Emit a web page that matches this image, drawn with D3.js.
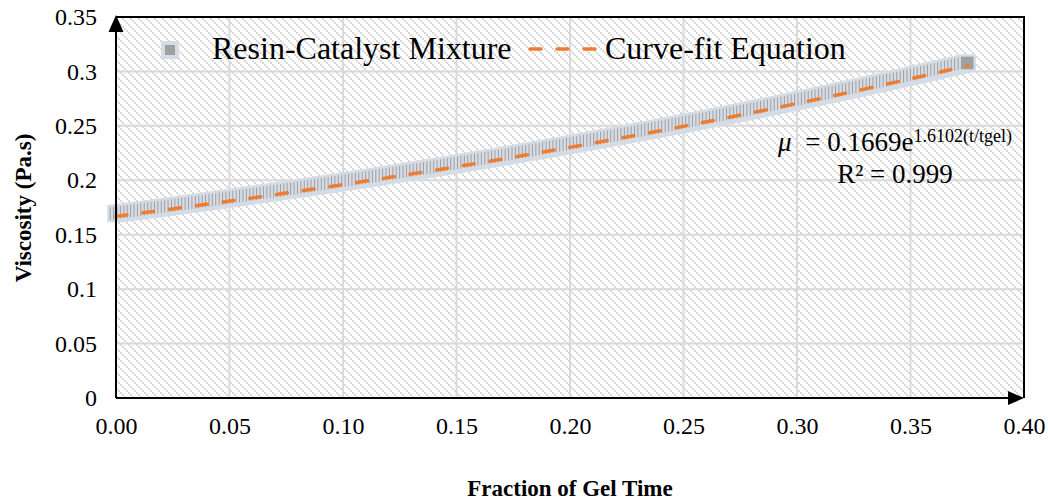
<!DOCTYPE html>
<html>
<head>
<meta charset="utf-8">
<script src="https://cdn.jsdelivr.net/npm/d3@7"></script>
<style>
    html, body { margin: 0; padding: 0; background: #ffffff; }
    #chart { width: 1048px; height: 504px; }
    text { font-family: "Liberation Serif", "Times New Roman", serif; fill: #000; }
</style>
</head>
<body>
<div id="chart"></div>
<script>
// Fraction of gel time (t/tgel) for each measured point
const fractionGelTime = [
    0.0000, 0.0015, 0.0030, 0.0045, 0.0060, 0.0075, 0.0090, 0.0105, 0.0120, 0.0135,
    0.0150, 0.0165, 0.0180, 0.0195, 0.0210, 0.0225, 0.0240, 0.0255, 0.0270, 0.0285,
    0.0300, 0.0315, 0.0330, 0.0345, 0.0360, 0.0375, 0.0390, 0.0405, 0.0420, 0.0435,
    0.0450, 0.0465, 0.0480, 0.0495, 0.0510, 0.0525, 0.0540, 0.0555, 0.0570, 0.0585,
    0.0600, 0.0615, 0.0630, 0.0645, 0.0660, 0.0675, 0.0690, 0.0705, 0.0720, 0.0735,
    0.0750, 0.0765, 0.0780, 0.0795, 0.0810, 0.0825, 0.0840, 0.0855, 0.0870, 0.0885,
    0.0900, 0.0915, 0.0930, 0.0945, 0.0960, 0.0975, 0.0990, 0.1005, 0.1020, 0.1035,
    0.1050, 0.1065, 0.1080, 0.1095, 0.1110, 0.1125, 0.1140, 0.1155, 0.1170, 0.1185,
    0.1200, 0.1215, 0.1230, 0.1245, 0.1260, 0.1275, 0.1290, 0.1305, 0.1320, 0.1335,
    0.1350, 0.1365, 0.1380, 0.1395, 0.1410, 0.1425, 0.1440, 0.1455, 0.1470, 0.1485,
    0.1500, 0.1515, 0.1530, 0.1545, 0.1560, 0.1575, 0.1590, 0.1605, 0.1620, 0.1635,
    0.1650, 0.1665, 0.1680, 0.1695, 0.1710, 0.1725, 0.1740, 0.1755, 0.1770, 0.1785,
    0.1800, 0.1815, 0.1830, 0.1845, 0.1860, 0.1875, 0.1890, 0.1905, 0.1920, 0.1935,
    0.1950, 0.1965, 0.1980, 0.1995, 0.2010, 0.2025, 0.2040, 0.2055, 0.2070, 0.2085,
    0.2100, 0.2115, 0.2130, 0.2145, 0.2160, 0.2175, 0.2190, 0.2205, 0.2220, 0.2235,
    0.2250, 0.2265, 0.2280, 0.2295, 0.2310, 0.2325, 0.2340, 0.2355, 0.2370, 0.2385,
    0.2400, 0.2415, 0.2430, 0.2445, 0.2460, 0.2475, 0.2490, 0.2505, 0.2520, 0.2535,
    0.2550, 0.2565, 0.2580, 0.2595, 0.2610, 0.2625, 0.2640, 0.2655, 0.2670, 0.2685,
    0.2700, 0.2715, 0.2730, 0.2745, 0.2760, 0.2775, 0.2790, 0.2805, 0.2820, 0.2835,
    0.2850, 0.2865, 0.2880, 0.2895, 0.2910, 0.2925, 0.2940, 0.2955, 0.2970, 0.2985,
    0.3000, 0.3015, 0.3030, 0.3045, 0.3060, 0.3075, 0.3090, 0.3105, 0.3120, 0.3135,
    0.3150, 0.3165, 0.3180, 0.3195, 0.3210, 0.3225, 0.3240, 0.3255, 0.3270, 0.3285,
    0.3300, 0.3315, 0.3330, 0.3345, 0.3360, 0.3375, 0.3390, 0.3405, 0.3420, 0.3435,
    0.3450, 0.3465, 0.3480, 0.3495, 0.3510, 0.3525, 0.3540, 0.3555, 0.3570, 0.3585,
    0.3600, 0.3615, 0.3630, 0.3645, 0.3660, 0.3675, 0.3690, 0.3705, 0.3720, 0.3735,
    0.3750
];

// Measured viscosity (Pa.s) of the resin-catalyst mixture
const viscosity = [
    0.16940, 0.16980, 0.17021, 0.17061, 0.17102, 0.17143, 0.17184, 0.17225, 0.17266, 0.17307,
    0.17348, 0.17389, 0.17431, 0.17472, 0.17514, 0.17556, 0.17598, 0.17640, 0.17682, 0.17724,
    0.17766, 0.17808, 0.17851, 0.17893, 0.17936, 0.17979, 0.18022, 0.18065, 0.18108, 0.18151,
    0.18194, 0.18238, 0.18281, 0.18325, 0.18368, 0.18412, 0.18456, 0.18500, 0.18544, 0.18589,
    0.18633, 0.18677, 0.18722, 0.18767, 0.18811, 0.18856, 0.18901, 0.18946, 0.18992, 0.19037,
    0.19082, 0.19128, 0.19174, 0.19219, 0.19265, 0.19311, 0.19357, 0.19403, 0.19450, 0.19496,
    0.19543, 0.19589, 0.19636, 0.19683, 0.19730, 0.19777, 0.19824, 0.19872, 0.19919, 0.19967,
    0.20014, 0.20062, 0.20110, 0.20158, 0.20206, 0.20255, 0.20303, 0.20351, 0.20400, 0.20449,
    0.20498, 0.20547, 0.20596, 0.20645, 0.20694, 0.20744, 0.20793, 0.20843, 0.20893, 0.20942,
    0.20993, 0.21043, 0.21093, 0.21143, 0.21194, 0.21245, 0.21295, 0.21346, 0.21397, 0.21448,
    0.21500, 0.21551, 0.21603, 0.21654, 0.21706, 0.21758, 0.21810, 0.21862, 0.21914, 0.21967,
    0.22019, 0.22072, 0.22125, 0.22177, 0.22230, 0.22284, 0.22337, 0.22390, 0.22444, 0.22497,
    0.22551, 0.22605, 0.22659, 0.22714, 0.22768, 0.22822, 0.22877, 0.22932, 0.22986, 0.23041,
    0.23097, 0.23152, 0.23207, 0.23263, 0.23318, 0.23374, 0.23430, 0.23486, 0.23542, 0.23599,
    0.23655, 0.23712, 0.23768, 0.23825, 0.23882, 0.23939, 0.23997, 0.24054, 0.24112, 0.24169,
    0.24227, 0.24285, 0.24343, 0.24402, 0.24460, 0.24519, 0.24577, 0.24636, 0.24695, 0.24754,
    0.24813, 0.24873, 0.24932, 0.24992, 0.25052, 0.25112, 0.25172, 0.25232, 0.25293, 0.25353,
    0.25414, 0.25475, 0.25536, 0.25597, 0.25658, 0.25720, 0.25781, 0.25843, 0.25905, 0.25967,
    0.26029, 0.26091, 0.26154, 0.26217, 0.26279, 0.26342, 0.26405, 0.26469, 0.26532, 0.26596,
    0.26659, 0.26723, 0.26787, 0.26851, 0.26916, 0.26980, 0.27045, 0.27110, 0.27175, 0.27240,
    0.27305, 0.27370, 0.27436, 0.27502, 0.27568, 0.27634, 0.27700, 0.27766, 0.27833, 0.27900,
    0.27966, 0.28033, 0.28101, 0.28168, 0.28236, 0.28303, 0.28371, 0.28439, 0.28507, 0.28575,
    0.28644, 0.28713, 0.28781, 0.28850, 0.28920, 0.28989, 0.29058, 0.29128, 0.29198, 0.29268,
    0.29338, 0.29408, 0.29479, 0.29550, 0.29620, 0.29691, 0.29763, 0.29834, 0.29906, 0.29977,
    0.30049, 0.30121, 0.30194, 0.30266, 0.30339, 0.30411, 0.30484, 0.30557, 0.30631, 0.30704,
    0.30778
];

// Coefficients printed on the chart for the exponential curve fit
const fitCoefficient = 0.1669;
const fitExponent = 1.6102;
const fitR2 = "0.999";

const xTicks = [0, 0.05, 0.10, 0.15, 0.20, 0.25, 0.30, 0.35, 0.40];
const yTicks = [0, 0.05, 0.1, 0.15, 0.2, 0.25, 0.3, 0.35];

const seriesNames = ["Resin-Catalyst Mixture", "Curve-fit Equation"];

document.addEventListener("DOMContentLoaded", function () {
    drawChart();
});

function drawChart() {
    const width = 1048, height = 504;
    const margin = { top: 17, right: 24, bottom: 106, left: 116 };

    const markerFill = "#a0a0a0";
    const markerStroke = "#d6dce5";
    const orange = "#ed7d31";
    const gridColor = "#dadada";

    const svg = d3.select("#chart").append("svg")
        .attr("width", width)
        .attr("height", height);

    const xScale = d3.scaleLinear().domain([0, 0.40]).range([margin.left, width - margin.right]);
    const yScale = d3.scaleLinear().domain([0, 0.35]).range([height - margin.bottom, margin.top]);

    const x0 = xScale(0), x1 = xScale(0.40);
    const y0 = yScale(0), y1 = yScale(0.35);

    // Hatched plot-area fill (light diagonal checker)
    const defs = svg.append("defs");
    const pattern = defs.append("pattern")
        .attr("id", "hatch")
        .attr("patternUnits", "userSpaceOnUse")
        .attr("width", 8)
        .attr("height", 8);
    pattern.append("rect").attr("width", 8).attr("height", 8).attr("fill", "#ffffff");
    [0, 2, 4, 6].forEach(k => {
        pattern.append("rect")
            .attr("x", k).attr("y", k)
            .attr("width", 2).attr("height", 2)
            .attr("fill", "#d8d8d8");
    });

    svg.append("rect")
        .attr("x", x0).attr("y", y1)
        .attr("width", x1 - x0).attr("height", y0 - y1)
        .attr("fill", "url(#hatch)");

    // Gridlines
    svg.append("g").selectAll("line")
        .data(yTicks.filter(d => d > 0))
        .enter().append("line")
        .attr("x1", x0).attr("x2", x1)
        .attr("y1", d => yScale(d)).attr("y2", d => yScale(d))
        .attr("stroke", gridColor).attr("stroke-width", 2);

    svg.append("g").selectAll("line")
        .data(xTicks.filter(d => d > 0))
        .enter().append("line")
        .attr("x1", d => xScale(d)).attr("x2", d => xScale(d))
        .attr("y1", y1).attr("y2", y0)
        .attr("stroke", gridColor).attr("stroke-width", 2);

    // Top and right border of plot area
    svg.append("path")
        .attr("d", `M${x0},${y1}H${x1}V${y0}`)
        .attr("fill", "none")
        .attr("stroke", "#000")
        .attr("stroke-width", 2);

    // Measured points: dense square markers
    const points = fractionGelTime.map((t, i) => [t, viscosity[i]]);
    const markerSize = 15;

    svg.append("g").selectAll("rect")
        .data(points)
        .enter().append("rect")
        .attr("x", d => xScale(d[0]) - markerSize / 2)
        .attr("y", d => yScale(d[1]) - markerSize / 2)
        .attr("width", markerSize)
        .attr("height", markerSize)
        .attr("fill", markerFill)
        .attr("stroke", markerStroke)
        .attr("stroke-width", 2.4);

    // Curve-fit trendline from the printed equation
    const fitLine = d3.line()
        .x(d => xScale(d))
        .y(d => yScale(fitCoefficient * Math.exp(fitExponent * d)));

    svg.append("path")
        .datum(fractionGelTime)
        .attr("fill", "none")
        .attr("stroke", orange)
        .attr("stroke-width", 3.5)
        .attr("stroke-dasharray", "11,16")
        .attr("stroke-linecap", "round")
        .attr("d", fitLine);

    // Axes (labels only; lines drawn with arrows below)
    const xAxis = d3.axisBottom(xScale)
        .tickValues(xTicks)
        .tickSize(0)
        .tickPadding(19)
        .tickFormat(d3.format(".2f"));

    svg.append("g")
        .attr("transform", `translate(0,${y0})`)
        .call(xAxis)
        .call(g => g.select(".domain").remove())
        .selectAll("text")
        .style("font-family", "Liberation Serif")
        .style("font-size", "24px")
        .attr("fill", "#000");

    const yAxis = d3.axisLeft(yScale)
        .tickValues(yTicks)
        .tickSize(0)
        .tickPadding(19)
        .tickFormat(d => d === 0 ? "0" : String(+d.toFixed(2)));

    svg.append("g")
        .attr("transform", `translate(${x0},0)`)
        .call(yAxis)
        .call(g => g.select(".domain").remove())
        .selectAll("text")
        .style("font-family", "Liberation Serif")
        .style("font-size", "24px")
        .attr("fill", "#000");

    // Axis lines with arrowheads
    svg.append("line")
        .attr("x1", x0).attr("x2", x1 - 8)
        .attr("y1", y0).attr("y2", y0)
        .attr("stroke", "#000").attr("stroke-width", 2);
    svg.append("path")
        .attr("d", `M${x1},${y0}L${x1 - 16},${y0 - 7}L${x1 - 16},${y0 + 7}Z`)
        .attr("fill", "#000");

    svg.append("line")
        .attr("x1", x0).attr("x2", x0)
        .attr("y1", y0).attr("y2", y1 + 8)
        .attr("stroke", "#000").attr("stroke-width", 2);
    svg.append("path")
        .attr("d", `M${x0},${y1 - 2}L${x0 - 7.5},${y1 + 15}L${x0 + 7.5},${y1 + 15}Z`)
        .attr("fill", "#000");

    // Axis titles
    svg.append("text")
        .attr("x", 570)
        .attr("y", 496)
        .attr("text-anchor", "middle")
        .style("font-size", "23px")
        .style("font-weight", "bold")
        .text("Fraction of Gel Time");

    svg.append("text")
        .attr("transform", `translate(31,208) rotate(-90)`)
        .attr("text-anchor", "middle")
        .style("font-size", "23px")
        .style("font-weight", "bold")
        .text("Viscosity (Pa.s)");

    // Legend
    const legend = svg.append("g");
    legend.append("rect")
        .attr("x", 170 - 7).attr("y", 50 - 7)
        .attr("width", 14).attr("height", 14)
        .attr("fill", markerFill)
        .attr("stroke", markerStroke)
        .attr("stroke-width", 4);
    legend.append("text")
        .attr("x", 212).attr("y", 59)
        .style("font-size", "32px")
        .text(seriesNames[0]);
    legend.append("line")
        .attr("x1", 530).attr("x2", 598)
        .attr("y1", 49).attr("y2", 49)
        .attr("stroke", orange)
        .attr("stroke-width", 3.5)
        .attr("stroke-dasharray", "11,16")
        .attr("stroke-linecap", "round");
    legend.append("text")
        .attr("x", 605).attr("y", 59)
        .style("font-size", "32px")
        .text(seriesNames[1]);

    // Fit equation label
    const eq = svg.append("text")
        .attr("x", 895).attr("y", 151)
        .attr("text-anchor", "middle")
        .style("font-size", "27px");
    eq.append("tspan").style("font-style", "italic").text("\u03bc");
    eq.append("tspan").text(`\u00a0\u00a0= ${fitCoefficient}e`);
    eq.append("tspan")
        .attr("dy", -9)
        .style("font-size", "18px")
        .text(`${fitExponent}(t/tgel)`);

    svg.append("text")
        .attr("x", 895).attr("y", 183)
        .attr("text-anchor", "middle")
        .style("font-size", "27px")
        .text(`R\u00b2 = ${fitR2}`);
}
</script>
</body>
</html>
